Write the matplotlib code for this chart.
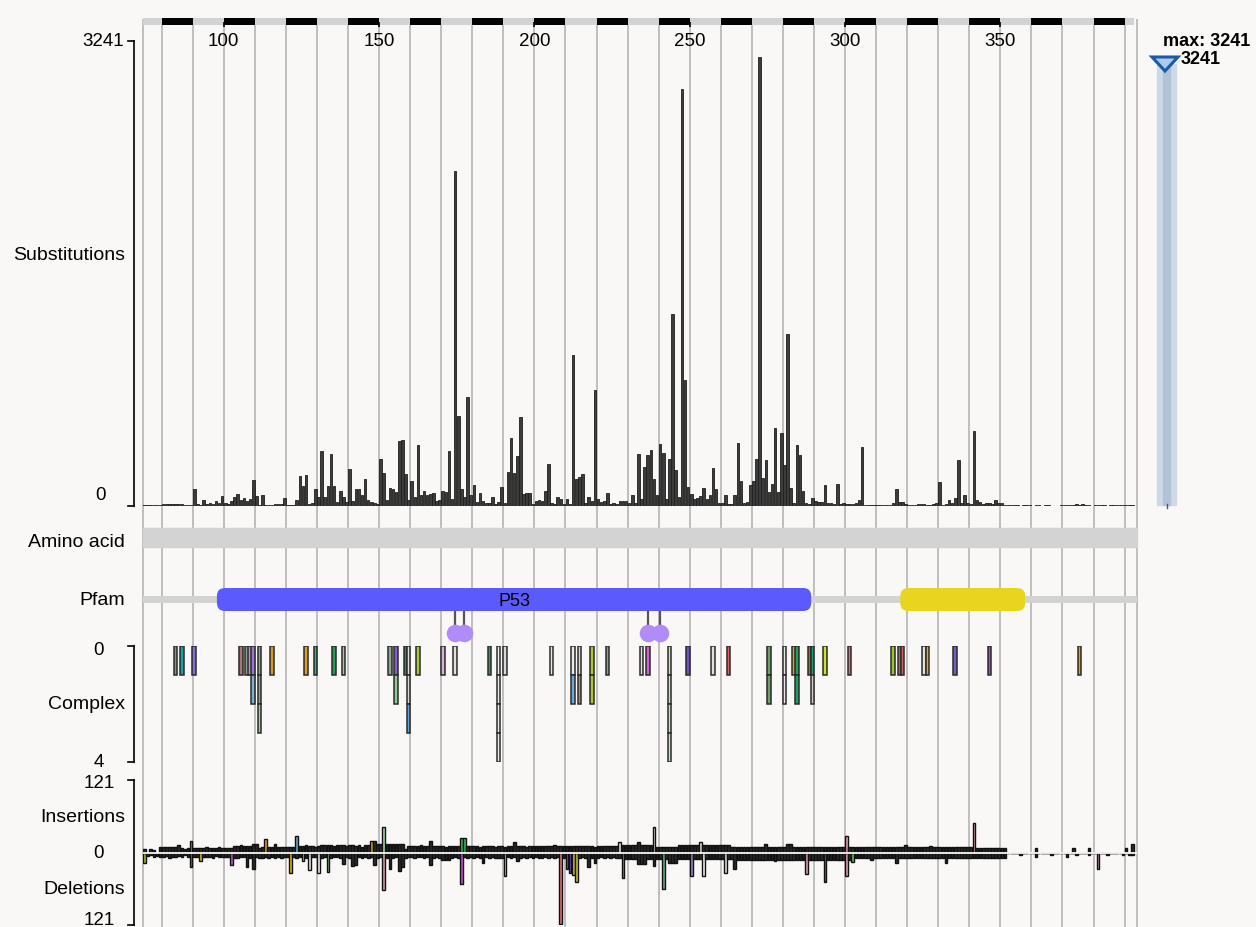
import matplotlib.pyplot as plt
from matplotlib.patches import FancyBboxPatch, Rectangle, Polygon

plt.rcParams['font.family'] = ['Liberation Sans', 'DejaVu Sans']

W, H = 1256, 928
BG = '#f9f8f6'

# ---------------- data ----------------
first_res = 74
# substitutions per residue, 74..393
substitutions = [
    5, 4, 5, 4, 6, 5, 5, 12, 8, 10,            # 74
    12, 8, 10, 9, 5, 6, 6, 112, 8, 5,          # 84
    40, 12, 14, 10, 28, 15, 65, 16, 12, 28,    # 94
    58, 81, 35, 51, 28, 47, 179, 63, 5, 72,    # 104
    6, 5, 5, 8, 10, 10, 51, 5, 4, 6,           # 114
    35, 205, 133, 214, 12, 19, 112, 58, 377, 58,   # 124
    135, 361, 135, 23, 98, 58, 23, 256, 28, 112,   # 134
    112, 74, 186, 40, 23, 19, 12, 326, 226, 35,    # 144
    123, 112, 93, 447, 458, 221, 35, 174, 58, 419,  # 154
    70, 98, 70, 81, 88, 28, 35, 98, 93, 377,       # 164
    47, 2337, 623, 112, 58, 754, 74, 144, 23, 86,  # 174
    28, 19, 19, 56, 9, 23, 128, 19, 237, 470,      # 184
    228, 344, 616, 81, 88, 86, 9, 28, 35, 33,      # 194
    98, 288, 14, 9, 56, 47, 9, 42, 9, 1047,        # 204
    186, 202, 221, 19, 56, 28, 805, 42, 23, 28,    # 214
    88, 9, 19, 9, 33, 33, 28, 14, 74, 14,          # 224
    361, 47, 267, 354, 384, 186, 70, 430, 367, 47,  # 234
    321, 1335, 251, 58, 2907, 879, 128, 81, 42, 51,  # 244
    65, 121, 42, 74, 260, 116, 19, 19, 70, 9,      # 254
    9, 70, 437, 174, 14, 23, 140, 174, 326, 3128,  # 264
    191, 314, 93, 151, 542, 93, 507, 284, 1200, 123,  # 274
    19, 419, 349, 98, 14, 9, 51, 33, 23, 23,       # 284
    144, 19, 19, 9, 151, 9, 19, 9, 9, 9,           # 294
    14, 37, 409, 6, 5, 5, 4, 5, 5, 4,              # 304
    5, 6, 14, 116, 23, 23, 9, 5, 5, 5,             # 314
    7, 9, 9, 5, 5, 9, 19, 167, 5, 9,               # 324
    37, 19, 51, 316, 19, 74, 19, 9, 523, 37,       # 334
    23, 9, 14, 19, 9, 37, 14, 19, 5, 6,            # 344
    4, 5, 4, 0, 4, 5, 4, 0, 4, 4,                  # 354
    0, 4, 4, 0, 0, 0, 3, 4, 5, 6,                  # 364
    6, 12, 6, 8, 5, 4, 0, 4, 4, 4,                 # 374
    4, 0, 4, 4, 4, 5, 4, 4, 4, 4,                  # 384
]

insertions = [
    5, 6, 0, 6, 5, 0, 10, 10, 10, 10,
    9, 10, 13, 8, 6, 8, 19, 8, 8, 8,
    8, 9, 8, 8, 8, 9, 8, 7, 8, 8,
    11, 11, 12, 11, 11, 11, 15, 15, 8, 10,
    22, 10, 10, 15, 10, 10, 10, 9, 10, 10,
    28, 11, 11, 12, 11, 11, 10, 11, 12, 12,
    12, 12, 11, 12, 12, 12, 11, 12, 12, 11,
    12, 10, 12, 12, 20, 20, 14, 14, 42, 14,
    14, 14, 15, 14, 14, 6, 11, 11, 11, 11,
    12, 11, 11, 20, 11, 11, 11, 11, 10, 11,
    11, 11, 11, 24, 24, 11, 11, 11, 11, 10,
    11, 11, 11, 11, 10, 11, 11, 10, 11, 11,
    18, 11, 11, 11, 10, 11, 11, 11, 11, 11,
    11, 11, 11, 12, 11, 11, 11, 11, 11, 11,
    11, 11, 11, 11, 11, 11, 10, 11, 11, 11,
    11, 11, 11, 11, 18, 12, 12, 12, 12, 12,
    17, 12, 12, 12, 12, 42, 10, 10, 10, 10,
    10, 10, 10, 12, 12, 12, 12, 12, 12, 12,
    18, 12, 12, 12, 12, 12, 12, 12, 12, 12,
    10, 10, 10, 10, 10, 10, 10, 10, 10, 10,
    10, 14, 10, 10, 10, 10, 10, 10, 14, 14,
    10, 10, 10, 10, 10, 10, 10, 10, 10, 10,
    10, 10, 10, 10, 10, 10, 10, 27, 10, 10,
    10, 10, 10, 10, 10, 10, 10, 10, 10, 10,
    10, 10, 10, 10, 10, 10, 12, 10, 10, 10,
    10, 10, 10, 10, 11, 10, 10, 10, 10, 10,
    10, 10, 10, 10, 10, 10, 10, 10, 49, 8,
    8, 8, 8, 8, 8, 8, 8, 8, 8, 0,
    0, 0, 0, 0, 0, 0, 0, 0, 8, 0,
    0, 0, 0, 0, 0, 0, 0, 0, 0, 0,
    8, 0, 0, 0, 0, 7, 0, 0, 0, 0,
    0, 0, 0, 0, 0, 0, 0, 8, 0, 14,
]

deletions = [
    5, 18, 6, 5, 7, 6, 8, 7, 6, 9,
    7, 8, 6, 7, 5, 8, 24, 7, 8, 15,
    7, 8, 7, 9, 6, 7, 8, 7, 8, 21,
    10, 9, 8, 8, 25, 9, 27, 8, 9, 9,
    8, 9, 7, 9, 8, 9, 8, 8, 35, 7,
    9, 8, 15, 9, 29, 8, 8, 35, 9, 8,
    33, 9, 8, 8, 9, 20, 8, 9, 22, 21,
    8, 9, 8, 9, 8, 21, 9, 8, 62, 9,
    27, 9, 8, 31, 25, 9, 8, 8, 9, 8,
    8, 9, 8, 21, 9, 8, 9, 13, 13, 13,
    9, 8, 9, 53, 8, 9, 8, 9, 8, 9,
    18, 8, 9, 8, 9, 10, 9, 40, 8, 9,
    8, 15, 9, 8, 9, 8, 9, 8, 9, 9,
    8, 9, 8, 9, 8, 120, 9, 27, 35, 38,
    49, 9, 8, 9, 25, 9, 18, 9, 8, 9,
    8, 9, 8, 9, 9, 43, 11, 11, 11, 11,
    19, 19, 19, 11, 11, 22, 11, 11, 61, 11,
    17, 17, 17, 11, 11, 11, 11, 39, 11, 11,
    11, 39, 11, 11, 11, 11, 11, 11, 34, 11,
    11, 27, 12, 12, 12, 12, 12, 12, 12, 12,
    12, 12, 12, 12, 14, 12, 12, 12, 12, 12,
    12, 12, 12, 12, 36, 12, 12, 12, 12, 12,
    49, 12, 12, 12, 12, 12, 12, 39, 12, 16,
    10, 10, 10, 10, 10, 12, 10, 10, 10, 10,
    10, 10, 10, 17, 10, 10, 10, 10, 10, 10,
    10, 10, 10, 10, 10, 10, 10, 10, 10, 17,
    10, 10, 10, 10, 10, 10, 10, 10, 10, 10,
    10, 10, 10, 10, 10, 10, 10, 10, 10, 0,
    0, 0, 0, 5, 0, 0, 0, 0, 8, 0,
    0, 0, 0, 5, 0, 0, 0, 0, 8, 0,
    0, 5, 0, 0, 0, 5, 0, 0, 28, 0,
    0, 5, 0, 0, 0, 0, 5, 0, 5, 5,
]

ins_colors = {90: '#60c040', 114: '#e0a020', 124: '#60a8d8', 148: '#e0a020',
              152: '#a8d8a8', 177: '#30c060', 178: '#30c060', 228: '#e0e0e0',
              239: '#e8e8e8', 254: '#e0e0e0', 301: '#e8a0b0', 342: '#eca8a8'}
del_colors = {75: '#a0c020', 90: '#40a060', 93: '#e0c020', 103: '#c050d0',
              122: '#e0b020', 126: '#c0e080', 128: '#e8e8e8', 131: '#f0f0f0',
              134: '#80c080', 152: '#d0a0a8', 177: '#c050d0', 191: '#d8d8d8',
              209: '#e07070', 211: '#8060d0', 212: '#8060d0', 213: '#e0c030',
              214: '#c0c040', 229: '#60a0d0', 242: '#60b080', 251: '#a080d0',
              255: '#f0f0f0', 262: '#e0e0e0', 288: '#e0a0b0', 294: '#8060d0',
              301: '#e0a0b0', 303: '#60c060', 382: '#c090b0'}

complex_res = [85, 87, 91, 106, 108, 109, 110, 112, 116, 127, 130, 136, 139,
               154, 156, 159, 160, 163, 171, 175, 186, 189, 191, 206, 213, 215,
               219, 224, 235, 237, 244, 250, 258, 263, 276, 281, 284, 285, 289,
               290, 294, 302, 316, 318, 319, 326, 327, 336, 347, 376]
complex_stacks = [
    ['#7a9a7a'], ['#1aa0a8'], ['#8a6ee0'], ['#a87878'], ['#8aa88a'],
    ['#c090d0'], ['#9a78d8', '#80b0d0'], ['#8aa88a', '#8aa88a', '#a0d0a0'],
    ['#d89a20'], ['#e0a020'], ['#20c070'], ['#20a050'], ['#a8c8a8'],
    ['#90a890'], ['#8060d0', '#90c890'], ['#2a8a5a'],
    ['#e0e0e0', '#d8d8d8', '#60a8d8'], ['#a8c830'], ['#d8b0d8'], ['#e0e0e0'],
    ['#30a050'], ['#eeeeee'] * 4, ['#d8d8d8'], ['#e8e8e8'],
    ['#e8e8e8', '#70a8d8'], ['#d8d8d8', '#b08888'], ['#b0c830', '#b0c830'],
    ['#80a880'], ['#e0e0e0'], ['#d060d8'], ['#c0e8c0'] * 4, ['#7050c8'],
    ['#e0e0e0'], ['#e06060'], ['#70a070', '#70a070'], ['#e8e8e8', '#e8e8e8'],
    ['#e0a020'], ['#20a060', '#20a060'], ['#b07010'], ['#20a070', '#d0d0d0'],
    ['#c8e820'], ['#e07070'], ['#98c828'], ['#a07068'], ['#e06060'],
    ['#e0e0e0'], ['#e8a820'], ['#7060c8'], ['#a850c8'], ['#e0a020'],
]

lollipop_res = [175, 178, 237, 241]
pfam_names = ['P53', '']
pfam_start = [97.8, 317.8]
pfam_end = [289.1, 358.0]
pfam_colors = ['#5b5bfd', '#e9d41e']

x_ticks = [100, 150, 200, 250, 300, 350]
sub_max = 3241
complex_max = 4
indel_max = 121

# ---------------- layout ----------------
XL, XR = 143, 1137
XMIN, XMAX = 74, 394
res = list(range(first_res, first_res + len(substitutions)))
xc = [r - 0.5 for r in res]

fig = plt.figure(figsize=(W / 100, H / 100), dpi=100)
fig.patch.set_facecolor(BG)


def box(x0, y0, x1, y1):
    ax = fig.add_axes([x0 / W, 1 - y1 / H, (x1 - x0) / W, (y1 - y0) / H])
    ax.set_facecolor('none')
    ax.axis('off')
    ax.set_xlim(XMIN, XMAX)
    return ax


# vertical grid
grid = box(XL, 20, XR, 928)
grid.set_ylim(0, 1)
grid.vlines(list(range(80, 391, 10)) + [XMIN, XMAX], 0, 1, color='#b4b4b4',
            lw=1.2, clip_on=False)

# ruler
ruler = box(XL, 19, XR, 26)
ruler.set_ylim(0, 1)
ruler.barh(0.5, 393 - XMIN, left=XMIN, height=1, color='#d3d3d3')
ruler.barh([0.5] * 16, 10, left=list(range(80, 390, 20)), height=1, color='black')
ruler.vlines(x_ticks, -0.3, 0.5, color='black', lw=1.2, clip_on=False)
for t in x_ticks:
    ruler.text(t, -2.2, str(t), ha='center', va='center', fontsize=13.5,
               clip_on=False)

# substitutions
sub = box(XL, 42, XR, 506.5)
sub.set_ylim(0, sub_max)
sub.bar(xc, substitutions, width=0.82, color='#3c3c3c', edgecolor='#1e1e1e',
        lw=0.6)

# pfam + lollipops (equal aspect in pixels)
upp = (XMAX - XMIN) / (XR - XL)
pf = box(XL, 585, XR, 640)
pf.set_ylim(0, 55 * upp)
pf.axhline((640 - 600) * upp, color='#d3d3d3', lw=5)
for name, s, e, c in zip(pfam_names, pfam_start, pfam_end, pfam_colors):
    pf.add_patch(FancyBboxPatch((s, (640 - 612) * upp), e - s, 23 * upp,
                                boxstyle='round,pad=0,rounding_size=%.3f' % (8 * upp),
                                facecolor=c, edgecolor='none', zorder=3))
    if name:
        pf.text((s + e) / 2, (640 - 601) * upp, name, ha='center', va='center',
                fontsize=13, zorder=4)
lx = [r - 0.5 for r in lollipop_res]
pf.vlines(lx, (640 - 634) * upp, (640 - 612) * upp, color='#555555', lw=1.6,
          zorder=2)
pf.scatter(lx, [(640 - 634) * upp] * len(lx), s=135, color='#b08cfa',
           zorder=3, clip_on=False)

# complex
cx = box(XL, 647, XR, 763)
cx.set_ylim(complex_max, 0)
for r, stack in zip(complex_res, complex_stacks):
    for k, c in enumerate(stack):
        cx.bar(r - 0.5, 1, bottom=k, width=1.15, color=c, edgecolor='#2a2a2a',
               lw=1.1)

# insertions / deletions
idl = box(XL, 781, XR, 926)
idl.set_ylim(-indel_max, indel_max)
ic = [ins_colors.get(r, '#2a2a2a') for r in res]
dc = [del_colors.get(r, '#2a2a2a') for r in res]
idl.bar(xc, insertions, width=0.85, color=ic, edgecolor='#111111', lw=1.0)
idl.bar(xc, [-d for d in deletions], width=0.85, color=dc, edgecolor='#111111',
        lw=1.0)
idl.axhline(0, color=BG, lw=1.3, zorder=5)

# ---------------- overlay (pixel coords) ----------------
ov = fig.add_axes([0, 0, 1, 1])
ov.set_facecolor('none')
ov.axis('off')
ov.set_xlim(0, W)
ov.set_ylim(H, 0)

# amino acid track
ov.add_patch(Rectangle((XL, 529), XR - XL, 19, color='#d3d3d3'))

# left axes
for y0, y1 in [(42, 506.5), (647, 763), (781, 926)]:
    ov.plot([134, 134], [y0, y1], color='black', lw=1.2)
    ov.plot([128, 134], [y0, y0], color='black', lw=1.2)
    ov.plot([128, 134], [y1, y1], color='black', lw=1.2)

fs = 13.5
ov.text(103, 42, str(sub_max), ha='center', va='center', fontsize=fs)
ov.text(101, 496, '0', ha='center', va='center', fontsize=fs)
ov.text(99, 651, '0', ha='center', va='center', fontsize=fs)
ov.text(99, 763, str(complex_max), ha='center', va='center', fontsize=fs)
ov.text(99, 784, str(indel_max), ha='center', va='center', fontsize=fs)
ov.text(99, 854, '0', ha='center', va='center', fontsize=fs)
ov.text(99, 921, str(indel_max), ha='center', va='center', fontsize=fs)

for label, y in [('Substitutions', 256), ('Amino acid', 543), ('Pfam', 601),
                 ('Complex', 705), ('Insertions', 818), ('Deletions', 890)]:
    ov.text(125, y, label, ha='right', va='center', fontsize=14)

# slider
ov.add_patch(Rectangle((1157, 65), 19, 441, color='#cdd9e7'))
ov.add_patch(Rectangle((1163, 65), 7, 441, color='#b3c3d6'))
ov.plot([1166.5, 1166.5], [505, 509], color='#555555', lw=1)
ov.add_patch(Polygon([(1152, 58), (1178, 58), (1165, 72)], closed=True,
                     facecolor='#a9cbf2', edgecolor='#1c5aa6', lw=2.2))
ov.text(1163, 41, 'max: %d' % sub_max, ha='left', va='center', fontsize=13,
        fontweight='bold')
ov.text(1181, 59, str(sub_max), ha='left', va='center', fontsize=13,
        fontweight='bold')

fig.savefig('out.png', dpi=100, facecolor=BG)
